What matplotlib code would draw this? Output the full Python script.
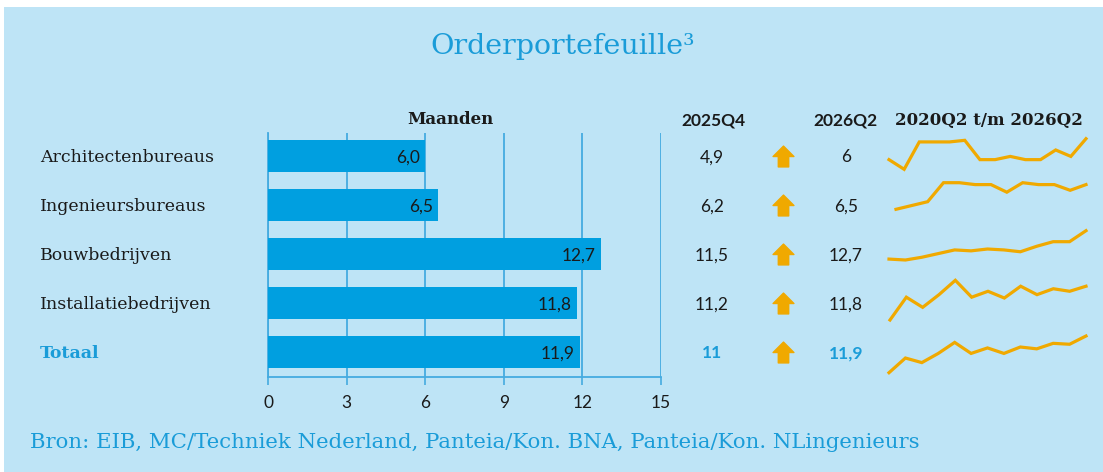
import matplotlib
matplotlib.use('Agg')
import matplotlib.pyplot as plt
import numpy as np
from matplotlib.patches import Rectangle
from matplotlib.path import Path
from matplotlib.transforms import blended_transform_factory

# --- data ---
categories = ['Architectenbureaus', 'Ingenieursbureaus', 'Bouwbedrijven',
              'Installatiebedrijven', 'Totaal']
maanden_2026q2 = [6.0, 6.5, 12.7, 11.8, 11.9]
maanden_2025q4 = [4.9, 6.2, 11.5, 11.2, 11.0]
x_ticks = [0, 3, 6, 9, 12, 15]

trend_architecten = [4.7, 4.1, 5.8, 5.8, 5.8, 5.9, 4.7, 4.7, 4.9, 4.7, 4.7, 5.3, 4.9, 6.0]
trend_ingenieurs = [5.2, 5.4, 5.6, 6.6, 6.6, 6.5, 6.5, 6.1, 6.6, 6.5, 6.5, 6.2, 6.5]
trend_bouw = [9.6, 9.5, 9.8, 10.2, 10.6, 10.5, 10.7, 10.6, 10.4, 11.0, 11.5, 11.5, 12.7]
trend_installatie = [7.8, 10.5, 9.3, 10.8, 12.5, 10.5, 11.2, 10.4, 11.8, 10.8, 11.5, 11.2, 11.8]
trend_totaal = [7.9, 9.5, 9.0, 10.0, 11.2, 10.0, 10.6, 10.0, 10.7, 10.5, 11.1, 11.0, 11.9]
trends = [trend_architecten, trend_ingenieurs, trend_bouw, trend_installatie, trend_totaal]

title = 'Orderportefeuille\u00b3'
source = 'Bron: EIB, MC/Techniek Nederland, Panteia/Kon. BNA, Panteia/Kon. NLingenieurs'

# --- style ---
BG = '#BEE4F6'
BAR = '#009FE0'
GRID = '#45ABE0'
BLUE_TXT = '#1A9CD8'
DARK = '#1A1A1A'
ORANGE = '#F0A900'
SERIF = 'DejaVu Serif'
SANS = 'Lato'

W, H = 1103, 472
fig = plt.figure(figsize=(W / 100, H / 100), dpi=100, facecolor='white')
fig.patches.append(Rectangle((4 / W, 0), 1, 1 - 7 / H, transform=fig.transFigure,
                             facecolor=BG, edgecolor='none', zorder=-10))


def fx(px):
    return px / W


def fy(py):
    return 1 - py / H


# bar axes (pixel box: x 268..661, y 133..377)
ax = fig.add_axes([fx(268), fy(377), fx(661) - fx(268), fy(133) - fy(377)])
ax.set_facecolor('none')
rows = np.arange(len(categories))
ax.barh(rows, maanden_2026q2, height=0.66, color=BAR, zorder=3)
ax.set_xlim(0, 15)
ax.set_ylim(4.51, -0.47)
ax.set_xticks(x_ticks)
ax.set_xticklabels([str(t) for t in x_ticks], fontfamily=SANS, fontsize=12.5, color=DARK)
ax.set_yticks([])
ax.tick_params(axis='x', length=6, width=1.2, color=GRID, pad=7)
ax.grid(axis='x', color=GRID, linewidth=1.3, zorder=0)
for side in ['top', 'right']:
    ax.spines[side].set_visible(False)
for side in ['left', 'bottom']:
    ax.spines[side].set_color(GRID)
    ax.spines[side].set_linewidth(1.3)

for i, v in enumerate(maanden_2026q2):
    ax.text(v - 0.2, i + 0.03, f'{v:.1f}'.replace('.', ','), ha='right', va='center',
            fontfamily=SANS, fontsize=12.5, color=DARK, zorder=4)

# rows in figure x / data y
tr = blended_transform_factory(fig.transFigure, ax.transData)


def fmt(v):
    return f'{v:g}'.replace('.', ',')


arrow = Path([(-0.5, 0.0), (0.0, 0.5), (0.5, 0.0), (0.25, 0.0), (0.25, -0.5),
              (-0.25, -0.5), (-0.25, 0.0), (-0.5, 0.0)], closed=True)
arrow_down = Path([(x, -y) for x, y in arrow.vertices], closed=True)

for i, cat in enumerate(categories):
    last = i == len(categories) - 1
    col = BLUE_TXT if last else DARK
    wt = 'bold' if last else 'normal'
    ax.text(fx(40), i + 0.03, cat, transform=tr, ha='left', va='center',
            fontfamily=SERIF, fontsize=12.5, color=col, fontweight=wt)
    ax.text(fx(712), i + 0.03, fmt(maanden_2025q4[i]), transform=tr, ha='center',
            va='center', fontfamily=SANS, fontsize=12.5, color=col, fontweight=wt)
    ax.text(fx(846), i + 0.03, fmt(maanden_2026q2[i]), transform=tr, ha='center',
            va='center', fontfamily=SANS, fontsize=12.5, color=col, fontweight=wt)
    up = maanden_2026q2[i] >= maanden_2025q4[i]
    ax.plot([fx(783)], [i], transform=tr, marker=arrow if up else arrow_down,
            markersize=15, color=ORANGE, linestyle='none', clip_on=False)

# headers
hy = fy(120)
fig.text(fx(450), hy, 'Maanden', ha='center', va='center', fontfamily=SERIF,
         fontsize=12, fontweight='bold', color=DARK)
fig.text(fx(713), hy, '2025Q4', ha='center', va='center', fontfamily=SANS,
         fontsize=12.5, fontweight='bold', color=DARK)
fig.text(fx(845), hy, '2026Q2', ha='center', va='center', fontfamily=SANS,
         fontsize=12.5, fontweight='bold', color=DARK)
fig.text(fx(989), hy, '2020Q2 t/m 2026Q2', ha='center', va='center', fontfamily=SERIF,
         fontsize=12, fontweight='bold', color=DARK)

# sparklines: pixel band per row (x start, y of max, y of min)
spark_boxes = [(889, 138.7, 169.3), (896, 182.7, 209.3), (889, 230.7, 260.0),
               (890, 280.3, 320.0), (889, 336.0, 372.7)]
for vals, (x0, ytop, ybot) in zip(trends, spark_boxes):
    sax = fig.add_axes([fx(x0), fy(ybot), fx(1086) - fx(x0), fy(ytop) - fy(ybot)])
    sax.set_axis_off()
    sax.plot(np.arange(len(vals)), vals, color=ORANGE, linewidth=2.3,
             solid_joinstyle='miter', clip_on=False)
    sax.set_xlim(0, len(vals) - 1)
    sax.set_ylim(min(vals), max(vals))

fig.text(fx(563), fy(47), title, ha='center', va='center', fontfamily=SERIF,
         fontsize=20.5, color=BLUE_TXT)
fig.text(fx(30), fy(443), source, ha='left', va='center', fontfamily=SERIF,
         fontsize=15.3, color=BLUE_TXT)

fig.savefig('out.png', dpi=100, facecolor='white')
